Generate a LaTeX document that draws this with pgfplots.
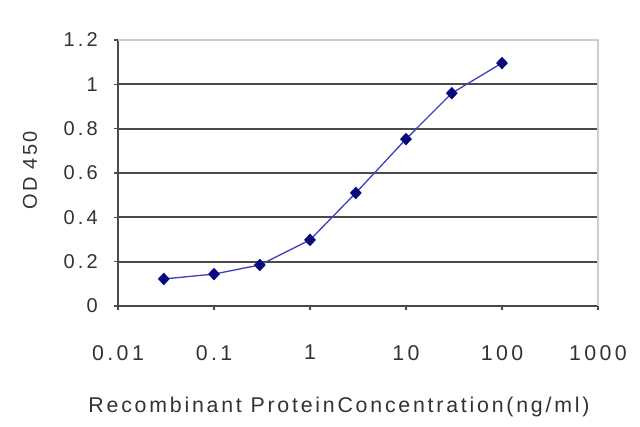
\documentclass[border=0pt]{standalone}
\usepackage{pgfplots}
\pgfplotsset{compat=1.18}
\usepackage{fontspec}
\setmainfont{Liberation Sans}[LetterSpace=11]
\definecolor{txt}{HTML}{333333}
\definecolor{gridc}{HTML}{4A4A4A}
\definecolor{lineblue}{HTML}{4040C0}
\definecolor{markblue}{HTML}{0A0A80}
\begin{document}
\begin{tikzpicture}
\path[use as bounding box] (0,0) rectangle (480pt,320.25pt);
\begin{axis}[
  at={(88.5pt,90.75pt)}, anchor=south west,
  scale only axis, width=360pt, height=199.5pt,
  xmode=log, xmin=0.01, xmax=1000,
  ymin=0, ymax=1.2,
  xtick={0.01,0.1,1,10,100,1000},
  xticklabels={0.01,0.1,1,10,100,1000},
  ytick={0,0.2,0.4,0.6,0.8,1,1.2},
  yticklabels={0,0.2,0.4,0.6,0.8,1,1.2},
  xminorticks=false,
  axis x line*=bottom, axis y line*=left,
  axis line style={gridc, line width=1.5pt, -},
  ymajorgrids, grid style={gridc, line width=1.5pt},
  tick align=outside, major tick length=3pt,
  tick style={gridc, line width=1pt},
  ticklabel style={font=\fontsize{15}{17}\selectfont, text=txt},
  xticklabel style={anchor=center, yshift=-32pt, font=\fontsize{16}{18}\selectfont\addfontfeature{LetterSpace=16}},
  yticklabel style={anchor=east, inner sep=0pt, xshift=-12pt, font=\fontsize{15}{17}\selectfont\addfontfeature{LetterSpace=16}},
  xlabel={Recombinant ProteinConcentration(ng/ml)},
  ylabel={OD 450},
  label style={font=\fontsize{15}{17}\selectfont, text=txt},
  xlabel style={at={(axis description cs:0.4604,-0.3797)}, anchor=center, font=\fontsize{16}{18}\selectfont\addfontfeature{LetterSpace=13}},
  ylabel style={at={(axis description cs:-0.1833,0.51)}, anchor=center},
  clip=false,
]
\draw[gray!40, line width=1.5pt] (rel axis cs:0,1) -- (rel axis cs:1,1) -- (rel axis cs:1,0);
\addplot[color=lineblue, line width=1pt, mark=diamond*, mark size=4pt,
  mark options={fill=markblue, draw=markblue, xscale=1.25}] coordinates {
  (0.03,0.122) (0.1,0.144) (0.3,0.185) (1,0.298) (3,0.51) (10,0.753) (30,0.96) (100,1.096)
};
\end{axis}
\end{tikzpicture}
\end{document}
